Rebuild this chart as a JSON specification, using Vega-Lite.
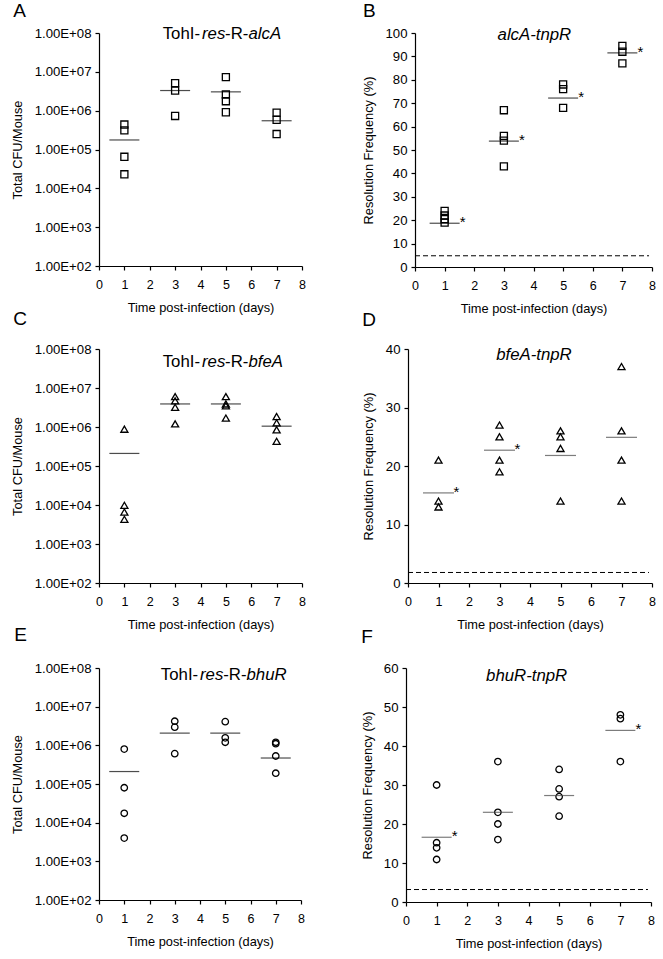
{
  "$schema": "https://vega.github.io/schema/vega-lite/v6.json",
  "padding": {"left": 11, "top": 1, "right": 5, "bottom": 2},
  "background": "white",
  "config": {
    "font": "Liberation Sans",
    "view": {"stroke": null},
    "axis": {"grid": false, "domainColor": "black", "tickColor": "black", "labelColor": "black", "titleColor": "black", "labelFont": "Liberation Sans", "titleFont": "Liberation Sans", "titleFontSize": 12.8, "titleFontWeight": "normal", "tickSize": 4, "domainWidth": 1.2, "tickWidth": 1.2, "labelOverlap": false},
    "axisX": {"labelFontSize": 12.5, "labelPadding": 8.5, "titlePadding": 10.5, "labelFlush": false},
    "axisY": {"labelFontSize": 13.2, "labelPadding": 4},
    "title": {"fontSize": 19, "fontWeight": "normal", "anchor": "start", "frame": "bounds", "color": "black", "font": "Liberation Sans", "baseline": "alphabetic"}
  },
  "datasets": {
    "pts": [
      {"p": "A", "day": 1, "v": 440000}, {"p": "A", "day": 1, "v": 310000}, {"p": "A", "day": 1, "v": 65000}, {"p": "A", "day": 1, "v": 23000},
      {"p": "A", "day": 3, "v": 5100000}, {"p": "A", "day": 3, "v": 3300000}, {"p": "A", "day": 3, "v": 730000},
      {"p": "A", "day": 5, "v": 7300000}, {"p": "A", "day": 5, "v": 2600000}, {"p": "A", "day": 5, "v": 1750000}, {"p": "A", "day": 5, "v": 910000},
      {"p": "A", "day": 7, "v": 890000}, {"p": "A", "day": 7, "v": 580000}, {"p": "A", "day": 7, "v": 250000},
      {"p": "B", "day": 1, "v": 24}, {"p": "B", "day": 1, "v": 22}, {"p": "B", "day": 1, "v": 20.5}, {"p": "B", "day": 1, "v": 19},
      {"p": "B", "day": 3, "v": 67}, {"p": "B", "day": 3, "v": 56}, {"p": "B", "day": 3, "v": 54}, {"p": "B", "day": 3, "v": 43},
      {"p": "B", "day": 5, "v": 78}, {"p": "B", "day": 5, "v": 76}, {"p": "B", "day": 5, "v": 68},
      {"p": "B", "day": 7, "v": 94.5}, {"p": "B", "day": 7, "v": 92}, {"p": "B", "day": 7, "v": 87},
      {"p": "C", "day": 1, "v": 880000}, {"p": "C", "day": 1, "v": 9800}, {"p": "C", "day": 1, "v": 6600}, {"p": "C", "day": 1, "v": 4300},
      {"p": "C", "day": 3, "v": 6000000}, {"p": "C", "day": 3, "v": 4700000}, {"p": "C", "day": 3, "v": 3200000}, {"p": "C", "day": 3, "v": 1200000},
      {"p": "C", "day": 5, "v": 6000000}, {"p": "C", "day": 5, "v": 3900000}, {"p": "C", "day": 5, "v": 3500000}, {"p": "C", "day": 5, "v": 1700000},
      {"p": "C", "day": 7, "v": 1860000}, {"p": "C", "day": 7, "v": 1280000}, {"p": "C", "day": 7, "v": 850000}, {"p": "C", "day": 7, "v": 430000},
      {"p": "D", "day": 1, "v": 21}, {"p": "D", "day": 1, "v": 14}, {"p": "D", "day": 1, "v": 13},
      {"p": "D", "day": 3, "v": 27}, {"p": "D", "day": 3, "v": 25}, {"p": "D", "day": 3, "v": 21}, {"p": "D", "day": 3, "v": 19},
      {"p": "D", "day": 5, "v": 26}, {"p": "D", "day": 5, "v": 25}, {"p": "D", "day": 5, "v": 23}, {"p": "D", "day": 5, "v": 14},
      {"p": "D", "day": 7, "v": 37}, {"p": "D", "day": 7, "v": 26}, {"p": "D", "day": 7, "v": 21}, {"p": "D", "day": 7, "v": 14},
      {"p": "E", "day": 1, "v": 800000}, {"p": "E", "day": 1, "v": 80000}, {"p": "E", "day": 1, "v": 17500}, {"p": "E", "day": 1, "v": 4000},
      {"p": "E", "day": 3, "v": 4200000}, {"p": "E", "day": 3, "v": 2950000}, {"p": "E", "day": 3, "v": 610000},
      {"p": "E", "day": 5, "v": 4100000}, {"p": "E", "day": 5, "v": 1560000}, {"p": "E", "day": 5, "v": 1200000},
      {"p": "E", "day": 7, "v": 1200000}, {"p": "E", "day": 7, "v": 1100000}, {"p": "E", "day": 7, "v": 530000}, {"p": "E", "day": 7, "v": 190000},
      {"p": "F", "day": 1, "v": 30}, {"p": "F", "day": 1, "v": 15.2}, {"p": "F", "day": 1, "v": 13.9}, {"p": "F", "day": 1, "v": 10.9},
      {"p": "F", "day": 3, "v": 36}, {"p": "F", "day": 3, "v": 23}, {"p": "F", "day": 3, "v": 20}, {"p": "F", "day": 3, "v": 16},
      {"p": "F", "day": 5, "v": 34}, {"p": "F", "day": 5, "v": 29}, {"p": "F", "day": 5, "v": 27}, {"p": "F", "day": 5, "v": 22},
      {"p": "F", "day": 7, "v": 48}, {"p": "F", "day": 7, "v": 47}, {"p": "F", "day": 7, "v": 36}
    ],
    "means": [
      {"p": "A", "day": 1, "v": 176000, "sig": false}, {"p": "A", "day": 3, "v": 3300000, "sig": false}, {"p": "A", "day": 5, "v": 3050000, "sig": false}, {"p": "A", "day": 7, "v": 550000, "sig": false},
      {"p": "B", "day": 1, "v": 18.7, "sig": true}, {"p": "B", "day": 3, "v": 53.8, "sig": true}, {"p": "B", "day": 5, "v": 72.2, "sig": true}, {"p": "B", "day": 7, "v": 91.5, "sig": true},
      {"p": "C", "day": 1, "v": 210000, "sig": false}, {"p": "C", "day": 3, "v": 3900000, "sig": false}, {"p": "C", "day": 5, "v": 3900000, "sig": false}, {"p": "C", "day": 7, "v": 1050000, "sig": false},
      {"p": "D", "day": 1, "v": 15.4, "sig": true}, {"p": "D", "day": 3, "v": 22.7, "sig": true}, {"p": "D", "day": 5, "v": 21.8, "sig": false}, {"p": "D", "day": 7, "v": 24.9, "sig": false},
      {"p": "E", "day": 1, "v": 210000, "sig": false}, {"p": "E", "day": 3, "v": 2070000, "sig": false}, {"p": "E", "day": 5, "v": 2070000, "sig": false}, {"p": "E", "day": 7, "v": 470000, "sig": false},
      {"p": "F", "day": 1, "v": 16.6, "sig": true}, {"p": "F", "day": 3, "v": 23, "sig": false}, {"p": "F", "day": 5, "v": 27.3, "sig": false}, {"p": "F", "day": 7, "v": 44, "sig": true}
    ],
    "labels": [
      {"p": "A", "seg": 1, "t": "TohI-"}, {"p": "A", "seg": 2, "t": "res"}, {"p": "A", "seg": 3, "t": "-R-"}, {"p": "A", "seg": 4, "t": "alcA"},
      {"p": "C", "seg": 1, "t": "TohI-"}, {"p": "C", "seg": 2, "t": "res"}, {"p": "C", "seg": 3, "t": "-R-"}, {"p": "C", "seg": 4, "t": "bfeA"},
      {"p": "E", "seg": 1, "t": "TohI-"}, {"p": "E", "seg": 2, "t": "res"}, {"p": "E", "seg": 3, "t": "-R-"}, {"p": "E", "seg": 4, "t": "bhuR"},
      {"p": "B", "seg": 1, "t": "alcA-tnpR"}, {"p": "D", "seg": 1, "t": "bfeA-tnpR"}, {"p": "F", "seg": 1, "t": "bhuR-tnpR"}
    ]
  },
  "spacing": -6,
  "vconcat": [
    {"spacing": 56, "hconcat": [
      {"title": {"text": "A", "offset": 5, "dx": 2}, "width": 203, "height": 233,
       "layer": [
        {"data": {"name": "pts"}, "transform": [{"filter": "datum.p==='A'"}],
         "mark": {"type": "point", "shape": "square", "filled": false, "color": "black", "size": 50, "strokeWidth": 1.3, "opacity": 1},
         "encoding": {
           "x": {"field": "day", "type": "quantitative", "scale": {"domain": [0, 8], "nice": false}, "axis": {"values": [0,1,2,3,4,5,6,7,8], "labelOverlap": false, "title": "Time post-infection (days)"}},
           "y": {"field": "v", "type": "quantitative", "scale": {"type": "log", "domain": [100, 100000000], "nice": false}, "axis": {"values": [100,1000,10000,100000,1000000,10000000,100000000], "labelOverlap": false, "labelExpr": "'1.00E+0' + round(log(datum.value)/LN10)", "title": "Total CFU/Mouse", "titlePadding": 10}}}},
        {"data": {"name": "means"}, "transform": [{"filter": "datum.p==='A'"}],
         "mark": {"type": "tick", "orient": "horizontal", "size": 30, "thickness": 1.2, "color": "black"},
         "encoding": {
           "x": {"field": "day", "type": "quantitative", "axis": {"values": [0,1,2,3,4,5,6,7,8], "labelOverlap": false, "title": "Time post-infection (days)"}},
           "y": {"field": "v", "type": "quantitative", "axis": {"values": [100,1000,10000,100000,1000000,10000000,100000000], "labelOverlap": false, "labelExpr": "'1.00E+0' + round(log(datum.value)/LN10)", "title": "Total CFU/Mouse", "titlePadding": 10}}}},
        {"data": {"name": "labels"}, "transform": [{"filter": "datum.p==='A' && datum.seg===1"}], "mark": {"type": "text", "align": "left", "baseline": "alphabetic", "fontSize": 16.8, "font": "Liberation Sans", "color": "black"},
         "encoding": {"x": {"datum": 2.51, "type": "quantitative", "axis": {"values": [0,1,2,3,4,5,6,7,8], "labelOverlap": false, "title": "Time post-infection (days)"}}, "y": {"datum": 71000000, "type": "quantitative", "axis": {"values": [100,1000,10000,100000,1000000,10000000,100000000], "labelOverlap": false, "labelExpr": "'1.00E+0' + round(log(datum.value)/LN10)", "title": "Total CFU/Mouse", "titlePadding": 10}}, "text": {"field": "t"}}},
        {"data": {"name": "labels"}, "transform": [{"filter": "datum.p==='A' && datum.seg===2"}], "mark": {"type": "text", "align": "left", "baseline": "alphabetic", "fontSize": 16.8, "fontStyle": "italic", "font": "Liberation Sans", "color": "black"},
         "encoding": {"x": {"datum": 4.06, "type": "quantitative", "axis": {"values": [0,1,2,3,4,5,6,7,8], "labelOverlap": false, "title": "Time post-infection (days)"}}, "y": {"datum": 71000000, "type": "quantitative", "axis": {"values": [100,1000,10000,100000,1000000,10000000,100000000], "labelOverlap": false, "labelExpr": "'1.00E+0' + round(log(datum.value)/LN10)", "title": "Total CFU/Mouse", "titlePadding": 10}}, "text": {"field": "t"}}},
        {"data": {"name": "labels"}, "transform": [{"filter": "datum.p==='A' && datum.seg===3"}], "mark": {"type": "text", "align": "left", "baseline": "alphabetic", "fontSize": 16.8, "font": "Liberation Sans", "color": "black"},
         "encoding": {"x": {"datum": 4.97, "type": "quantitative", "axis": {"values": [0,1,2,3,4,5,6,7,8], "labelOverlap": false, "title": "Time post-infection (days)"}}, "y": {"datum": 71000000, "type": "quantitative", "axis": {"values": [100,1000,10000,100000,1000000,10000000,100000000], "labelOverlap": false, "labelExpr": "'1.00E+0' + round(log(datum.value)/LN10)", "title": "Total CFU/Mouse", "titlePadding": 10}}, "text": {"field": "t"}}},
        {"data": {"name": "labels"}, "transform": [{"filter": "datum.p==='A' && datum.seg===4"}], "mark": {"type": "text", "align": "left", "baseline": "alphabetic", "fontSize": 16.8, "fontStyle": "italic", "font": "Liberation Sans", "color": "black"},
         "encoding": {"x": {"datum": 5.89, "type": "quantitative", "axis": {"values": [0,1,2,3,4,5,6,7,8], "labelOverlap": false, "title": "Time post-infection (days)"}}, "y": {"datum": 71000000, "type": "quantitative", "axis": {"values": [100,1000,10000,100000,1000000,10000000,100000000], "labelOverlap": false, "labelExpr": "'1.00E+0' + round(log(datum.value)/LN10)", "title": "Total CFU/Mouse", "titlePadding": 10}}, "text": {"field": "t"}}}
       ]},
      {"title": {"text": "B", "offset": 5, "dx": 0}, "width": 237, "height": 234,
       "layer": [
        {"data": {"name": "pts"}, "transform": [{"filter": "datum.p==='B'"}],
         "mark": {"type": "point", "shape": "square", "filled": false, "color": "black", "size": 50, "strokeWidth": 1.3, "opacity": 1},
         "encoding": {
           "x": {"field": "day", "type": "quantitative", "scale": {"domain": [0, 8], "nice": false}, "axis": {"values": [0,1,2,3,4,5,6,7,8], "labelOverlap": false, "title": "Time post-infection (days)"}},
           "y": {"field": "v", "type": "quantitative", "scale": {"domain": [0, 100], "nice": false}, "axis": {"values": [0,10,20,30,40,50,60,70,80,90,100], "labelOverlap": false, "title": "Resolution Frequency (%)", "titlePadding": 9}}}},
        {"data": {"name": "labels"}, "transform": [{"filter": "datum.p==='B'"}], "mark": {"type": "rule", "strokeDash": [5, 3], "color": "black", "strokeWidth": 1},
         "encoding": {"x": {"datum": 0, "type": "quantitative", "axis": {"values": [0,1,2,3,4,5,6,7,8], "labelOverlap": false, "title": "Time post-infection (days)"}}, "x2": {"datum": 7.9}, "y": {"datum": 4.8, "type": "quantitative", "axis": {"values": [0,10,20,30,40,50,60,70,80,90,100], "labelOverlap": false, "title": "Resolution Frequency (%)", "titlePadding": 9}}}},
        {"data": {"name": "means"}, "transform": [{"filter": "datum.p==='B'"}],
         "mark": {"type": "tick", "orient": "horizontal", "size": 30, "thickness": 1.2, "color": "black"},
         "encoding": {"x": {"field": "day", "type": "quantitative", "axis": {"values": [0,1,2,3,4,5,6,7,8], "labelOverlap": false, "title": "Time post-infection (days)"}}, "y": {"field": "v", "type": "quantitative", "axis": {"values": [0,10,20,30,40,50,60,70,80,90,100], "labelOverlap": false, "title": "Resolution Frequency (%)", "titlePadding": 9}}}},
        {"data": {"name": "means"}, "transform": [{"filter": "datum.p==='B' && datum.sig"}],
         "mark": {"type": "text", "text": "*", "dx": 18, "dy": -1, "baseline": "middle", "align": "center", "fontSize": 15, "font": "Liberation Sans", "color": "black"},
         "encoding": {"x": {"field": "day", "type": "quantitative", "axis": {"values": [0,1,2,3,4,5,6,7,8], "labelOverlap": false, "title": "Time post-infection (days)"}}, "y": {"field": "v", "type": "quantitative", "axis": {"values": [0,10,20,30,40,50,60,70,80,90,100], "labelOverlap": false, "title": "Resolution Frequency (%)", "titlePadding": 9}}}},
        {"data": {"name": "labels"}, "transform": [{"filter": "datum.p==='B'"}], "mark": {"type": "text", "align": "center", "baseline": "alphabetic", "fontSize": 16.8, "fontStyle": "italic", "font": "Liberation Sans", "color": "black"},
         "encoding": {"x": {"datum": 4.03, "type": "quantitative", "axis": {"values": [0,1,2,3,4,5,6,7,8], "labelOverlap": false, "title": "Time post-infection (days)"}}, "y": {"datum": 97.1, "type": "quantitative", "axis": {"values": [0,10,20,30,40,50,60,70,80,90,100], "labelOverlap": false, "title": "Resolution Frequency (%)", "titlePadding": 9}}, "text": {"field": "t"}}}
       ]}
    ]},
    {"spacing": 56, "hconcat": [
      {"title": {"text": "C", "offset": 12.6, "dx": 2}, "width": 203, "height": 234,
       "layer": [
        {"data": {"name": "pts"}, "transform": [{"filter": "datum.p==='C'"}],
         "mark": {"type": "point", "shape": "triangle-up", "filled": false, "color": "black", "size": 50, "strokeWidth": 1.3, "opacity": 1},
         "encoding": {
           "x": {"field": "day", "type": "quantitative", "scale": {"domain": [0, 8], "nice": false}, "axis": {"values": [0,1,2,3,4,5,6,7,8], "labelOverlap": false, "title": "Time post-infection (days)"}},
           "y": {"field": "v", "type": "quantitative", "scale": {"type": "log", "domain": [100, 100000000], "nice": false}, "axis": {"values": [100,1000,10000,100000,1000000,10000000,100000000], "labelOverlap": false, "labelExpr": "'1.00E+0' + round(log(datum.value)/LN10)", "title": "Total CFU/Mouse", "titlePadding": 10}}}},
        {"data": {"name": "means"}, "transform": [{"filter": "datum.p==='C'"}],
         "mark": {"type": "tick", "orient": "horizontal", "size": 30, "thickness": 1.2, "color": "black"},
         "encoding": {
           "x": {"field": "day", "type": "quantitative", "axis": {"values": [0,1,2,3,4,5,6,7,8], "labelOverlap": false, "title": "Time post-infection (days)"}},
           "y": {"field": "v", "type": "quantitative", "axis": {"values": [100,1000,10000,100000,1000000,10000000,100000000], "labelOverlap": false, "labelExpr": "'1.00E+0' + round(log(datum.value)/LN10)", "title": "Total CFU/Mouse", "titlePadding": 10}}}},
        {"data": {"name": "labels"}, "transform": [{"filter": "datum.p==='C' && datum.seg===1"}], "mark": {"type": "text", "align": "left", "baseline": "alphabetic", "fontSize": 16.8, "font": "Liberation Sans", "color": "black"},
         "encoding": {"x": {"datum": 2.51, "type": "quantitative", "axis": {"values": [0,1,2,3,4,5,6,7,8], "labelOverlap": false, "title": "Time post-infection (days)"}}, "y": {"datum": 34000000, "type": "quantitative", "axis": {"values": [100,1000,10000,100000,1000000,10000000,100000000], "labelOverlap": false, "labelExpr": "'1.00E+0' + round(log(datum.value)/LN10)", "title": "Total CFU/Mouse", "titlePadding": 10}}, "text": {"field": "t"}}},
        {"data": {"name": "labels"}, "transform": [{"filter": "datum.p==='C' && datum.seg===2"}], "mark": {"type": "text", "align": "left", "baseline": "alphabetic", "fontSize": 16.8, "fontStyle": "italic", "font": "Liberation Sans", "color": "black"},
         "encoding": {"x": {"datum": 4.06, "type": "quantitative", "axis": {"values": [0,1,2,3,4,5,6,7,8], "labelOverlap": false, "title": "Time post-infection (days)"}}, "y": {"datum": 34000000, "type": "quantitative", "axis": {"values": [100,1000,10000,100000,1000000,10000000,100000000], "labelOverlap": false, "labelExpr": "'1.00E+0' + round(log(datum.value)/LN10)", "title": "Total CFU/Mouse", "titlePadding": 10}}, "text": {"field": "t"}}},
        {"data": {"name": "labels"}, "transform": [{"filter": "datum.p==='C' && datum.seg===3"}], "mark": {"type": "text", "align": "left", "baseline": "alphabetic", "fontSize": 16.8, "font": "Liberation Sans", "color": "black"},
         "encoding": {"x": {"datum": 4.97, "type": "quantitative", "axis": {"values": [0,1,2,3,4,5,6,7,8], "labelOverlap": false, "title": "Time post-infection (days)"}}, "y": {"datum": 34000000, "type": "quantitative", "axis": {"values": [100,1000,10000,100000,1000000,10000000,100000000], "labelOverlap": false, "labelExpr": "'1.00E+0' + round(log(datum.value)/LN10)", "title": "Total CFU/Mouse", "titlePadding": 10}}, "text": {"field": "t"}}},
        {"data": {"name": "labels"}, "transform": [{"filter": "datum.p==='C' && datum.seg===4"}], "mark": {"type": "text", "align": "left", "baseline": "alphabetic", "fontSize": 16.8, "fontStyle": "italic", "font": "Liberation Sans", "color": "black"},
         "encoding": {"x": {"datum": 5.89, "type": "quantitative", "axis": {"values": [0,1,2,3,4,5,6,7,8], "labelOverlap": false, "title": "Time post-infection (days)"}}, "y": {"datum": 34000000, "type": "quantitative", "axis": {"values": [100,1000,10000,100000,1000000,10000000,100000000], "labelOverlap": false, "labelExpr": "'1.00E+0' + round(log(datum.value)/LN10)", "title": "Total CFU/Mouse", "titlePadding": 10}}, "text": {"field": "t"}}}
       ]},
      {"title": {"text": "D", "offset": 12.3, "dx": 0}, "width": 244, "height": 234,
       "layer": [
        {"data": {"name": "pts"}, "transform": [{"filter": "datum.p==='D'"}],
         "mark": {"type": "point", "shape": "triangle-up", "filled": false, "color": "black", "size": 50, "strokeWidth": 1.3, "opacity": 1},
         "encoding": {
           "x": {"field": "day", "type": "quantitative", "scale": {"domain": [0, 8], "nice": false}, "axis": {"values": [0,1,2,3,4,5,6,7,8], "labelOverlap": false, "title": "Time post-infection (days)"}},
           "y": {"field": "v", "type": "quantitative", "scale": {"domain": [0, 40], "nice": false}, "axis": {"values": [0,10,20,30,40], "labelOverlap": false, "title": "Resolution Frequency (%)", "titlePadding": 10}}}},
        {"data": {"name": "labels"}, "transform": [{"filter": "datum.p==='D'"}], "mark": {"type": "rule", "strokeDash": [5, 3], "color": "black", "strokeWidth": 1},
         "encoding": {"x": {"datum": 0, "type": "quantitative", "axis": {"values": [0,1,2,3,4,5,6,7,8], "labelOverlap": false, "title": "Time post-infection (days)"}}, "x2": {"datum": 7.9}, "y": {"datum": 1.8, "type": "quantitative", "axis": {"values": [0,10,20,30,40], "labelOverlap": false, "title": "Resolution Frequency (%)", "titlePadding": 10}}}},
        {"data": {"name": "means"}, "transform": [{"filter": "datum.p==='D'"}],
         "mark": {"type": "tick", "orient": "horizontal", "size": 31, "thickness": 1.2, "color": "#444444"},
         "encoding": {"x": {"field": "day", "type": "quantitative", "axis": {"values": [0,1,2,3,4,5,6,7,8], "labelOverlap": false, "title": "Time post-infection (days)"}}, "y": {"field": "v", "type": "quantitative", "axis": {"values": [0,10,20,30,40], "labelOverlap": false, "title": "Resolution Frequency (%)", "titlePadding": 10}}}},
        {"data": {"name": "means"}, "transform": [{"filter": "datum.p==='D' && datum.sig"}],
         "mark": {"type": "text", "text": "*", "dx": 18, "dy": -1, "baseline": "middle", "align": "center", "fontSize": 15, "font": "Liberation Sans", "color": "black"},
         "encoding": {"x": {"field": "day", "type": "quantitative", "axis": {"values": [0,1,2,3,4,5,6,7,8], "labelOverlap": false, "title": "Time post-infection (days)"}}, "y": {"field": "v", "type": "quantitative", "axis": {"values": [0,10,20,30,40], "labelOverlap": false, "title": "Resolution Frequency (%)", "titlePadding": 10}}}},
        {"data": {"name": "labels"}, "transform": [{"filter": "datum.p==='D'"}], "mark": {"type": "text", "align": "center", "baseline": "alphabetic", "fontSize": 16.8, "fontStyle": "italic", "font": "Liberation Sans", "color": "black"},
         "encoding": {"x": {"datum": 4.13, "type": "quantitative", "axis": {"values": [0,1,2,3,4,5,6,7,8], "labelOverlap": false, "title": "Time post-infection (days)"}}, "y": {"datum": 38.2, "type": "quantitative", "axis": {"values": [0,10,20,30,40], "labelOverlap": false, "title": "Resolution Frequency (%)", "titlePadding": 10}}, "text": {"field": "t"}}}
       ]}
    ]},
    {"spacing": 56, "hconcat": [
      {"title": {"text": "E", "offset": 16, "dx": 3}, "width": 202, "height": 232,
       "layer": [
        {"data": {"name": "pts"}, "transform": [{"filter": "datum.p==='E'"}],
         "mark": {"type": "point", "shape": "circle", "filled": false, "color": "black", "size": 42, "strokeWidth": 1.3, "opacity": 1},
         "encoding": {
           "x": {"field": "day", "type": "quantitative", "scale": {"domain": [0, 8], "nice": false}, "axis": {"values": [0,1,2,3,4,5,6,7,8], "labelOverlap": false, "title": "Time post-infection (days)"}},
           "y": {"field": "v", "type": "quantitative", "scale": {"type": "log", "domain": [100, 100000000], "nice": false}, "axis": {"values": [100,1000,10000,100000,1000000,10000000,100000000], "labelOverlap": false, "labelExpr": "'1.00E+0' + round(log(datum.value)/LN10)", "title": "Total CFU/Mouse", "titlePadding": 10}}}},
        {"data": {"name": "means"}, "transform": [{"filter": "datum.p==='E'"}],
         "mark": {"type": "tick", "orient": "horizontal", "size": 30, "thickness": 1.2, "color": "black"},
         "encoding": {
           "x": {"field": "day", "type": "quantitative", "axis": {"values": [0,1,2,3,4,5,6,7,8], "labelOverlap": false, "title": "Time post-infection (days)"}},
           "y": {"field": "v", "type": "quantitative", "axis": {"values": [100,1000,10000,100000,1000000,10000000,100000000], "labelOverlap": false, "labelExpr": "'1.00E+0' + round(log(datum.value)/LN10)", "title": "Total CFU/Mouse", "titlePadding": 10}}}},
        {"data": {"name": "labels"}, "transform": [{"filter": "datum.p==='E' && datum.seg===1"}], "mark": {"type": "text", "align": "left", "baseline": "alphabetic", "fontSize": 16.8, "font": "Liberation Sans", "color": "black"},
         "encoding": {"x": {"datum": 2.45, "type": "quantitative", "axis": {"values": [0,1,2,3,4,5,6,7,8], "labelOverlap": false, "title": "Time post-infection (days)"}}, "y": {"datum": 50000000, "type": "quantitative", "axis": {"values": [100,1000,10000,100000,1000000,10000000,100000000], "labelOverlap": false, "labelExpr": "'1.00E+0' + round(log(datum.value)/LN10)", "title": "Total CFU/Mouse", "titlePadding": 10}}, "text": {"field": "t"}}},
        {"data": {"name": "labels"}, "transform": [{"filter": "datum.p==='E' && datum.seg===2"}], "mark": {"type": "text", "align": "left", "baseline": "alphabetic", "fontSize": 16.8, "fontStyle": "italic", "font": "Liberation Sans", "color": "black"},
         "encoding": {"x": {"datum": 4.0, "type": "quantitative", "axis": {"values": [0,1,2,3,4,5,6,7,8], "labelOverlap": false, "title": "Time post-infection (days)"}}, "y": {"datum": 50000000, "type": "quantitative", "axis": {"values": [100,1000,10000,100000,1000000,10000000,100000000], "labelOverlap": false, "labelExpr": "'1.00E+0' + round(log(datum.value)/LN10)", "title": "Total CFU/Mouse", "titlePadding": 10}}, "text": {"field": "t"}}},
        {"data": {"name": "labels"}, "transform": [{"filter": "datum.p==='E' && datum.seg===3"}], "mark": {"type": "text", "align": "left", "baseline": "alphabetic", "fontSize": 16.8, "font": "Liberation Sans", "color": "black"},
         "encoding": {"x": {"datum": 4.92, "type": "quantitative", "axis": {"values": [0,1,2,3,4,5,6,7,8], "labelOverlap": false, "title": "Time post-infection (days)"}}, "y": {"datum": 50000000, "type": "quantitative", "axis": {"values": [100,1000,10000,100000,1000000,10000000,100000000], "labelOverlap": false, "labelExpr": "'1.00E+0' + round(log(datum.value)/LN10)", "title": "Total CFU/Mouse", "titlePadding": 10}}, "text": {"field": "t"}}},
        {"data": {"name": "labels"}, "transform": [{"filter": "datum.p==='E' && datum.seg===4"}], "mark": {"type": "text", "align": "left", "baseline": "alphabetic", "fontSize": 16.8, "fontStyle": "italic", "font": "Liberation Sans", "color": "black"},
         "encoding": {"x": {"datum": 5.84, "type": "quantitative", "axis": {"values": [0,1,2,3,4,5,6,7,8], "labelOverlap": false, "title": "Time post-infection (days)"}}, "y": {"datum": 50000000, "type": "quantitative", "axis": {"values": [100,1000,10000,100000,1000000,10000000,100000000], "labelOverlap": false, "labelExpr": "'1.00E+0' + round(log(datum.value)/LN10)", "title": "Total CFU/Mouse", "titlePadding": 10}}, "text": {"field": "t"}}}
       ]},
      {"title": {"text": "F", "offset": 14.3, "dx": 0}, "width": 245, "height": 234,
       "layer": [
        {"data": {"name": "pts"}, "transform": [{"filter": "datum.p==='F'"}],
         "mark": {"type": "point", "shape": "circle", "filled": false, "color": "black", "size": 42, "strokeWidth": 1.3, "opacity": 1},
         "encoding": {
           "x": {"field": "day", "type": "quantitative", "scale": {"domain": [0, 8], "nice": false}, "axis": {"values": [0,1,2,3,4,5,6,7,8], "labelOverlap": false, "title": "Time post-infection (days)"}},
           "y": {"field": "v", "type": "quantitative", "scale": {"domain": [0, 60], "nice": false}, "axis": {"values": [0,10,20,30,40,50,60], "labelOverlap": false, "title": "Resolution Frequency (%)", "titlePadding": 9}}}},
        {"data": {"name": "labels"}, "transform": [{"filter": "datum.p==='F'"}], "mark": {"type": "rule", "strokeDash": [5, 3], "color": "black", "strokeWidth": 1},
         "encoding": {"x": {"datum": 0, "type": "quantitative", "axis": {"values": [0,1,2,3,4,5,6,7,8], "labelOverlap": false, "title": "Time post-infection (days)"}}, "x2": {"datum": 7.9}, "y": {"datum": 3.2, "type": "quantitative", "axis": {"values": [0,10,20,30,40,50,60], "labelOverlap": false, "title": "Resolution Frequency (%)", "titlePadding": 9}}}},
        {"data": {"name": "means"}, "transform": [{"filter": "datum.p==='F'"}],
         "mark": {"type": "tick", "orient": "horizontal", "size": 30, "thickness": 1.2, "color": "#444444"},
         "encoding": {"x": {"field": "day", "type": "quantitative", "axis": {"values": [0,1,2,3,4,5,6,7,8], "labelOverlap": false, "title": "Time post-infection (days)"}}, "y": {"field": "v", "type": "quantitative", "axis": {"values": [0,10,20,30,40,50,60], "labelOverlap": false, "title": "Resolution Frequency (%)", "titlePadding": 9}}}},
        {"data": {"name": "means"}, "transform": [{"filter": "datum.p==='F' && datum.sig"}],
         "mark": {"type": "text", "text": "*", "dx": 18, "dy": -1, "baseline": "middle", "align": "center", "fontSize": 15, "font": "Liberation Sans", "color": "black"},
         "encoding": {"x": {"field": "day", "type": "quantitative", "axis": {"values": [0,1,2,3,4,5,6,7,8], "labelOverlap": false, "title": "Time post-infection (days)"}}, "y": {"field": "v", "type": "quantitative", "axis": {"values": [0,10,20,30,40,50,60], "labelOverlap": false, "title": "Resolution Frequency (%)", "titlePadding": 9}}}},
        {"data": {"name": "labels"}, "transform": [{"filter": "datum.p==='F'"}], "mark": {"type": "text", "align": "center", "baseline": "alphabetic", "fontSize": 16.8, "fontStyle": "italic", "font": "Liberation Sans", "color": "black"},
         "encoding": {"x": {"datum": 3.94, "type": "quantitative", "axis": {"values": [0,1,2,3,4,5,6,7,8], "labelOverlap": false, "title": "Time post-infection (days)"}}, "y": {"datum": 56.6, "type": "quantitative", "axis": {"values": [0,10,20,30,40,50,60], "labelOverlap": false, "title": "Resolution Frequency (%)", "titlePadding": 9}}, "text": {"field": "t"}}}
       ]}
    ]}
  ]
}
